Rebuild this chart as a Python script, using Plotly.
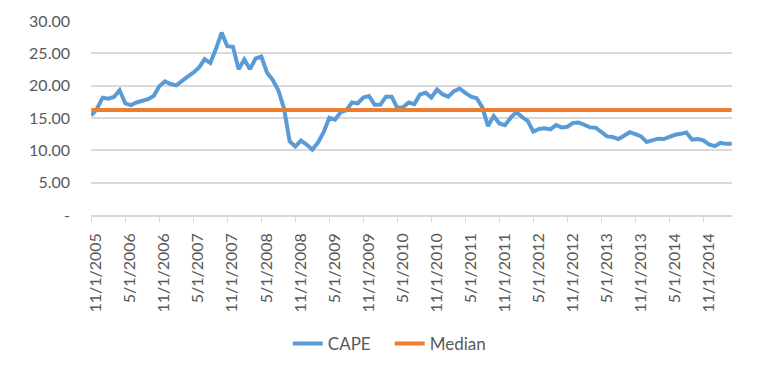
import pandas as pd
import plotly.graph_objects as go

# Monthly observations, 11/1/2005 .. 4/1/2015
months = pd.date_range("2005-11-01", "2015-04-01", freq="MS")
categories = [f"{d.month}/1/{d.year}" for d in months]

cape = [
    15.4, 16.4, 18.15, 18.0, 18.25, 19.3, 17.25, 17.0, 17.4, 17.65,
    17.9, 18.4, 19.9, 20.65, 20.25, 20.05, 20.8, 21.4, 22.0, 22.8,
    24.1, 23.5, 25.7, 28.2, 26.1, 26.0, 22.55, 24.05, 22.55, 24.2,
    24.5, 22.05, 20.9, 19.3, 16.5, 11.4, 10.6, 11.5, 10.9, 10.1,
    11.2, 12.8, 15.05, 14.75, 15.9, 16.2, 17.4, 17.25, 18.15, 18.4,
    17.05, 17.05, 18.3, 18.3, 16.55, 16.65, 17.4, 17.15, 18.65, 18.9,
    18.15, 19.4, 18.65, 18.3, 19.15, 19.55, 18.9, 18.3, 18.05, 16.65,
    13.75, 15.3, 14.15, 13.9, 15.05, 15.9, 15.15, 14.55, 12.9, 13.3,
    13.4, 13.25, 13.9, 13.55, 13.65, 14.25, 14.3, 13.9, 13.55, 13.5,
    12.9, 12.15, 12.05, 11.75, 12.25, 12.8, 12.5, 12.15, 11.3, 11.5,
    11.8, 11.75, 12.15, 12.4, 12.55, 12.75, 11.65, 11.75, 11.55, 10.9,
    10.65, 11.15, 11.0, 11.0,
]
median_value = 16.25
median = [median_value] * len(categories)

x_tick_labels = [c for c in categories if c.startswith("11/1/") or c.startswith("5/1/")]
x_tick_labels = x_tick_labels[:19]
y_tick_values = [0, 5, 10, 15, 20, 25, 30]
y_tick_labels = ["-", "5.00", "10.00", "15.00", "20.00", "25.00", "30.00"]

FONT = "Lato, 'Open Sans', sans-serif"
TEXT = "#595959"
GRID = "#d9d9d9"

fig = go.Figure()
fig.add_trace(go.Scatter(x=categories, y=cape, mode="lines", name="CAPE",
                         line=dict(color="#5b9bd5", width=4), legend="legend"))
fig.add_trace(go.Scatter(x=categories, y=median, mode="lines", name="Median",
                         line=dict(color="#ed7d31", width=4), legend="legend2"))

fig.update_layout(
    width=760, height=374,
    margin=dict(l=91, r=28, t=21, b=153),
    paper_bgcolor="white", plot_bgcolor="white",
    font=dict(family=FONT, color=TEXT, size=17),
    showlegend=True,
    legend=dict(orientation="h", x=0.307, xanchor="left", y=-0.665, yanchor="middle",
                font=dict(size=17, color=TEXT), bgcolor="rgba(0,0,0,0)"),
    legend2=dict(orientation="h", x=0.466, xanchor="left", y=-0.665, yanchor="middle",
                 font=dict(size=17, color=TEXT), bgcolor="rgba(0,0,0,0)"),
)
fig.update_xaxes(
    type="category", categoryorder="array", categoryarray=categories,
    range=[-0.05, len(categories) - 0.95],
    tickmode="array", tickvals=x_tick_labels, ticktext=x_tick_labels,
    tickangle=-90, tickfont=dict(size=16, color=TEXT, family=FONT),
    ticklabelstandoff=5, ticklabelshift=5,
    showgrid=False, showline=True, linecolor=GRID, linewidth=1.5,
    ticks="outside", ticklen=5, tickcolor=GRID, automargin=False,
)
fig.update_yaxes(
    range=[0, 30], tickmode="array", tickvals=y_tick_values, ticktext=y_tick_labels,
    tickfont=dict(size=16, color=TEXT, family=FONT),
    showgrid=True, gridcolor=GRID, gridwidth=1.5, zeroline=False,
    showline=False, ticks="", ticklabelstandoff=20, automargin=False,
)

fig.write_html(
    "out.html",
    config={"displayModeBar": False},
    post_script="document.body.style.margin='0';document.body.style.overflow='hidden';",
)
